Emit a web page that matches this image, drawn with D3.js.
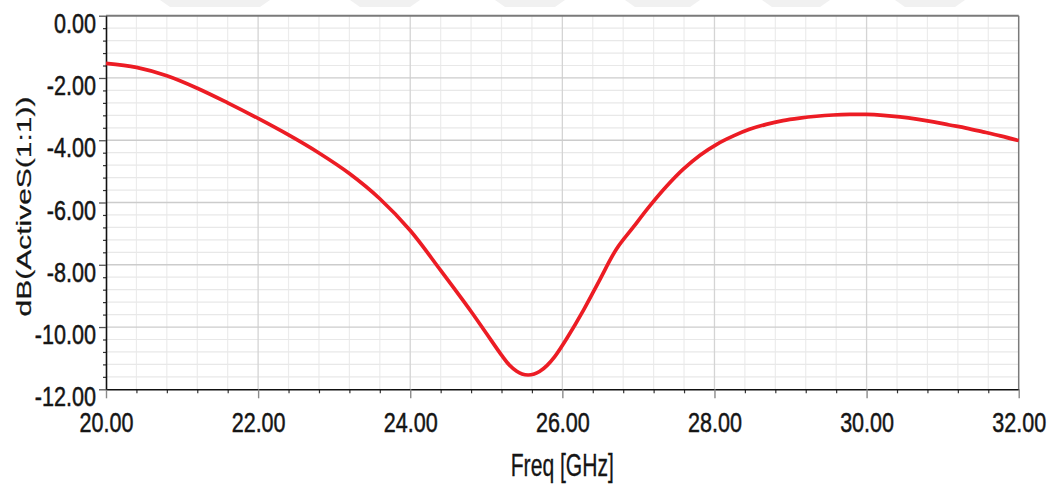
<!DOCTYPE html>
<html>
<head>
<meta charset="utf-8">
<script src="https://cdn.jsdelivr.net/npm/d3@7"></script>
<style>
  html, body { margin: 0; padding: 0; background: #ffffff; }
  svg { display: block; }
  text { font-family: "Liberation Sans", Arial, sans-serif; fill: #151515; }
</style>
</head>
<body>
<svg id="chart" width="1050" height="487"></svg>
<script>
// Frequency sweep (GHz) and active reflection coefficient (dB)
const freqGHz = [
  20.00, 20.40, 20.80, 21.20, 21.60, 22.00, 22.40, 22.80, 23.20, 23.60,
  24.00, 24.40, 24.80, 25.00, 25.20, 25.30, 25.40, 25.47, 25.55, 25.63,
  25.70, 25.80, 25.90, 26.06, 26.28, 26.49, 26.71, 26.93, 27.15, 27.37,
  27.59, 27.81, 28.03, 28.25, 28.46, 28.68, 28.90, 29.12, 29.34, 29.56,
  29.78, 30.00, 30.22, 30.44, 30.66, 30.88, 31.09, 31.31, 31.53, 31.76,
  32.00
];
const activeS11dB = [
  -1.53, -1.66, -1.93, -2.33, -2.80, -3.30, -3.83, -4.41, -5.07, -5.88,
  -6.90, -8.18, -9.50, -10.20, -10.90, -11.21, -11.42, -11.51, -11.54, -11.51,
  -11.43, -11.23, -10.95, -10.36, -9.45, -8.49, -7.50, -6.80, -6.11, -5.48,
  -4.93, -4.48, -4.13, -3.86, -3.65, -3.49, -3.37, -3.29, -3.23, -3.19,
  -3.17, -3.17, -3.20, -3.25, -3.32, -3.41, -3.51, -3.61, -3.73, -3.86,
  -4.01
];

// Axis ticks
const xMajorTicks = [20, 22, 24, 26, 28, 30, 32];
const yMajorTicks = [0, -2, -4, -6, -8, -10, -12];
const xMinorStep = 0.4;
const yMinorStep = 0.4;

const svg = d3.select("#chart");

// Plot frame
const plotLeft = 106, plotRight = 1018.7, plotTop = 15.7, plotBottom = 389.3;

const x = d3.scaleLinear().domain([20, 32]).range([plotLeft, plotRight]);
const y = d3.scaleLinear().domain([-12, 0]).range([plotBottom, plotTop]);

const fmt = d => d.toFixed(2);

// Faint banner shapes along the top edge
const banner = [[160, 270], [350, 420], [495, 565], [625, 700], [762, 830], [895, 965]];
svg.append("g").selectAll("path").data(banner).join("path")
  .attr("d", d => `M${d[0]},0 L${d[1]},0 L${d[1] - 10},7 L${d[0] + 10},7 Z`)
  .attr("fill", "#f1f1f1");

// Minor grid
const xMinor = d3.range(20, 32.0001, xMinorStep).filter(v => !xMajorTicks.some(m => Math.abs(m - v) < 1e-6));
const yMinor = d3.range(-12, 0.0001, yMinorStep).filter(v => !yMajorTicks.some(m => Math.abs(m - v) < 1e-6));

const grid = svg.append("g");
grid.selectAll("line.vminor").data(xMinor).join("line")
  .attr("x1", d => x(d)).attr("x2", d => x(d))
  .attr("y1", plotTop).attr("y2", plotBottom)
  .attr("stroke", "#ececec").attr("stroke-width", 1.2);
grid.selectAll("line.hminor").data(yMinor).join("line")
  .attr("x1", plotLeft).attr("x2", plotRight)
  .attr("y1", d => y(d)).attr("y2", d => y(d))
  .attr("stroke", "#e8e8e8").attr("stroke-width", 1.2);
// Major grid
grid.selectAll("line.vmajor").data(xMajorTicks.slice(1, -1)).join("line")
  .attr("x1", d => x(d)).attr("x2", d => x(d))
  .attr("y1", plotTop).attr("y2", plotBottom)
  .attr("stroke", "#d4d4d4").attr("stroke-width", 1.3);
grid.selectAll("line.hmajor").data(yMajorTicks.slice(1, -1)).join("line")
  .attr("x1", plotLeft).attr("x2", plotRight)
  .attr("y1", d => y(d)).attr("y2", d => y(d))
  .attr("stroke", "#cccccc").attr("stroke-width", 1.3);

// Top and right frame
svg.append("line").attr("x1", plotLeft).attr("x2", plotRight).attr("y1", plotTop).attr("y2", plotTop)
  .attr("stroke", "#7a7a7a").attr("stroke-width", 2);
svg.append("line").attr("x1", plotRight).attr("x2", plotRight).attr("y1", plotTop).attr("y2", plotBottom)
  .attr("stroke", "#7a7a7a").attr("stroke-width", 1.5);

// X axis: minor ticks, then major ticks with labels
const xMinorAxis = svg.append("g").attr("transform", `translate(0,${plotBottom})`)
  .call(d3.axisBottom(x).tickValues(xMinor).tickSize(4).tickFormat(""));
xMinorAxis.select(".domain").remove();
xMinorAxis.selectAll("line").attr("stroke", "#333").attr("stroke-width", 1.2);

const xAxis = svg.append("g").attr("transform", `translate(0,${plotBottom})`)
  .call(d3.axisBottom(x).tickValues(xMajorTicks).tickSize(9).tickSizeOuter(0).tickFormat(fmt));
xAxis.select(".domain").attr("stroke", "#111").attr("stroke-width", 1.6);
xAxis.selectAll(".tick line").attr("stroke", "#8a8a8a").attr("stroke-width", 1.4);
xAxis.selectAll(".tick text")
  .attr("y", 0).attr("dy", null)
  .attr("transform", "translate(0,42.7) scale(0.77,1)")
  .attr("font-size", 28)
  .style("font-family", "'Liberation Sans', Arial, sans-serif")
  .attr("fill", "#151515")
  .attr("stroke", "#151515").attr("stroke-width", 0.5);

// Y axis: minor ticks, then major ticks with labels
const yMinorAxis = svg.append("g").attr("transform", `translate(${plotLeft},0)`)
  .call(d3.axisLeft(y).tickValues(yMinor).tickSize(3).tickFormat(""));
yMinorAxis.select(".domain").remove();
yMinorAxis.selectAll("line").attr("stroke", "#333").attr("stroke-width", 1.2);

const yAxis = svg.append("g").attr("transform", `translate(${plotLeft},0)`)
  .call(d3.axisLeft(y).tickValues(yMajorTicks).tickSize(7).tickSizeOuter(0).tickFormat(fmt));
yAxis.select(".domain").attr("stroke", "#111").attr("stroke-width", 1.6);
yAxis.selectAll(".tick line").attr("stroke", "#555").attr("stroke-width", 1.3);
yAxis.selectAll(".tick text")
  .attr("x", 0).attr("dy", null)
  .attr("transform", "translate(-10,16.5) scale(0.8,1)")
  .attr("text-anchor", "end")
  .attr("font-size", 27)
  .style("font-family", "'Liberation Sans', Arial, sans-serif")
  .attr("fill", "#151515")
  .attr("stroke", "#151515").attr("stroke-width", 0.5);

// Curve
const line = d3.line()
  .x((d, i) => x(freqGHz[i]))
  .y(d => y(d))
  .curve(d3.curveCatmullRom.alpha(0.5));

svg.append("path")
  .datum(activeS11dB)
  .attr("d", line)
  .attr("fill", "none")
  .attr("stroke", "#ec1c24")
  .attr("stroke-width", 3.7)
  .attr("stroke-linejoin", "round")
  .attr("stroke-linecap", "butt");

// Axis titles
svg.append("g")
  .attr("transform", `translate(${(plotLeft + plotRight) / 2},476) scale(0.66,1)`)
  .append("text")
  .attr("text-anchor", "middle")
  .attr("font-size", 32)
  .attr("stroke", "#151515").attr("stroke-width", 0.3)
  .text("Freq [GHz]");

svg.append("g")
  .attr("transform", "translate(31,206.5) scale(0.69,1) rotate(-90)")
  .append("text")
  .attr("text-anchor", "middle")
  .attr("font-size", 30)
  .attr("stroke", "#151515").attr("stroke-width", 0.3)
  .text("dB(ActiveS(1:1))");
</script>
</body>
</html>
